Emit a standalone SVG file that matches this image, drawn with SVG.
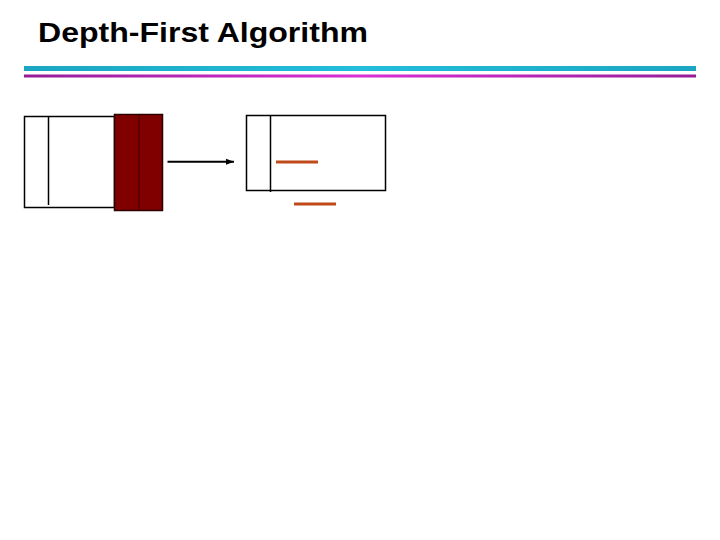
<svg xmlns="http://www.w3.org/2000/svg" width="720" height="540" viewBox="0 0 720 540">
<style>
.title{font-family:"Liberation Sans",Arial,sans-serif;font-weight:bold;font-size:28px;fill:#000}
.box{fill:#fff;stroke:#000;stroke-width:1.5}
.div{stroke:#000;stroke-width:1.5}
.red{fill:#800000;stroke:#2a0000;stroke-width:1.5}
.orange{stroke:#C04A1A;stroke-width:3}
</style>
<defs>
<linearGradient id="gc" x1="0" x2="1" y1="0" y2="0">
<stop offset="0" stop-color="#1AA6C2"/><stop offset="0.5" stop-color="#22BEDA"/><stop offset="1" stop-color="#1AA6C2"/>
</linearGradient>
<linearGradient id="gm" x1="0" x2="1" y1="0" y2="0">
<stop offset="0" stop-color="#961C98"/><stop offset="0.5" stop-color="#D92FD6"/><stop offset="1" stop-color="#961C98"/>
</linearGradient>
<marker id="ah" markerWidth="9" markerHeight="8" refX="8" refY="4" orient="auto" markerUnits="userSpaceOnUse">
<path d="M0,1 L8,4 L0,7 Z" fill="#000"/>
</marker>
</defs>
<rect width="720" height="540" fill="#fff"/>
<text class="title" x="38" y="42" textLength="330" lengthAdjust="spacingAndGlyphs">Depth-First Algorithm</text>
<rect x="24" y="66" width="672" height="5" fill="url(#gc)"/>
<rect x="24" y="74.5" width="672" height="3" fill="url(#gm)"/>
<g id="stack-left">
<rect class="box" x="24.5" y="116.5" width="90" height="91"/>
<line class="div" x1="48.5" y1="116.5" x2="48.5" y2="205"/>
</g>
<g id="stack-red">
<rect class="red" x="114.5" y="114.5" width="48" height="96"/>
<line x1="139" y1="114.5" x2="139" y2="210.5" stroke="#3a0000" stroke-width="1"/>
</g>
<g id="stack-right">
<rect class="box" x="246.5" y="115.5" width="139" height="75"/>
<line class="div" x1="270.5" y1="115.5" x2="270.5" y2="192"/>
<line class="orange" x1="276" y1="162" x2="318" y2="162"/>
</g>
<g id="bar-below">
<line class="orange" x1="294" y1="204" x2="336" y2="204"/>
</g>
<g id="connectors">
<line x1="167.5" y1="161.7" x2="234" y2="161.7" stroke="#000" stroke-width="2" marker-end="url(#ah)"/>
</g>
</svg>
